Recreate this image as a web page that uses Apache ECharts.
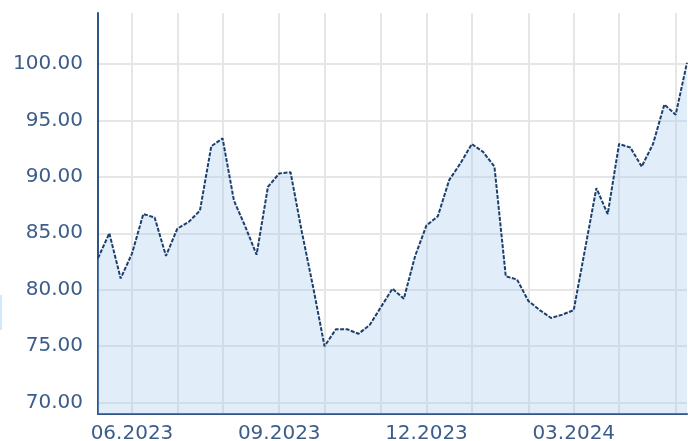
<!DOCTYPE html>
<html>
<head>
<meta charset="utf-8">
<script src="https://cdn.jsdelivr.net/npm/echarts@6/dist/echarts.min.js"></script>
<style>
html,body{margin:0;padding:0;background:#fff;}
#c{width:688px;height:441px;}
</style>
</head>
<body>
<div id="c"></div>
<script>
const dates = [
 '2023-05-16','2023-05-23','2023-05-30',
 '2023-06-06','2023-06-13','2023-06-20','2023-06-27',
 '2023-07-04','2023-07-11','2023-07-18','2023-07-25',
 '2023-08-01','2023-08-08','2023-08-15','2023-08-22','2023-08-29',
 '2023-09-05','2023-09-12','2023-09-19','2023-09-26',
 '2023-10-03','2023-10-10','2023-10-17','2023-10-24','2023-10-31',
 '2023-11-07','2023-11-14','2023-11-21','2023-11-28',
 '2023-12-05','2023-12-12','2023-12-19','2023-12-26',
 '2024-01-02','2024-01-09','2024-01-16','2024-01-23','2024-01-30',
 '2024-02-06','2024-02-13','2024-02-20','2024-02-27',
 '2024-03-05','2024-03-12','2024-03-19','2024-03-26',
 '2024-04-02','2024-04-09','2024-04-16','2024-04-23','2024-04-30',
 '2024-05-07','2024-05-14'
];
const values = [
 82.8, 85.0, 81.0,
 83.2, 86.7, 86.4, 83.0,
 85.4, 86.0, 87.0, 92.7,
 93.4, 87.9, 85.6, 83.1, 89.1,
 90.3, 90.4, 85.1, 80.2,
 75.0, 76.5, 76.5, 76.1, 76.9,
 78.5, 80.1, 79.2, 83.0,
 85.7, 86.5, 89.7, 91.2,
 92.9, 92.2, 90.9, 81.2, 80.9,
 79.0, 78.2, 77.5, 77.8,
 78.2, 83.6, 89.0, 86.7,
 92.9, 92.6, 90.9, 92.9, 96.4,
 95.5, 100.1
];
const xTickLabels = ['06.2023','09.2023','12.2023','03.2024'];
const yTickValues = [70, 75, 80, 85, 90, 95, 100];

function monthLabel(d){ return d.slice(5,7) + '.' + d.slice(0,4); }
function isFirstOfMonth(d){ return parseInt(d.slice(8,10),10) <= 7; }

const chart = echarts.init(document.getElementById('c'), null, {renderer:'canvas'});
chart.setOption({
  animation:false,
  backgroundColor:'#ffffff',
  grid:{left:98, right:1, top:13, bottom:27, containLabel:false, outerBoundsMode:'none'},
  xAxis:{
    type:'category',
    data:dates,
    boundaryGap:false,
    axisLine:{show:true, lineStyle:{color:'#2f5586', width:2}},
    axisTick:{show:false},
    axisLabel:{
      color:'#3c5d8a', fontFamily:'DejaVu Sans', fontSize:20, margin:10,
      interval:function(i, v){ return isFirstOfMonth(v) && xTickLabels.indexOf(monthLabel(v)) >= 0; },
      formatter:function(v){ return monthLabel(v); }
    },
    splitLine:{
      show:true,
      interval:function(i, v){ return i > 0 && isFirstOfMonth(v); },
      lineStyle:{color:'#e6e6e6', width:2}
    }
  },
  yAxis:{
    type:'value',
    min:69, max:104.5,
    splitNumber:7,
    axisLine:{show:true, lineStyle:{color:'#2f5586', width:2}},
    axisTick:{show:false},
    axisLabel:{
      color:'#3c5d8a', fontFamily:'DejaVu Sans', fontSize:20, margin:15,
      formatter:function(v){ return yTickValues.indexOf(Math.round(v*100)/100) >= 0 ? v.toFixed(2) : ''; }
    },
    splitLine:{show:true, showMinLine:false, showMaxLine:false, lineStyle:{color:'#e6e6e6', width:2}}
  },
  graphic:[{type:'rect', shape:{x:0, y:295, width:2, height:35}, style:{fill:'#d3e8f8'}}],
  series:[{
    type:'line',
    data:values,
    symbol:'none',
    smooth:false,
    lineStyle:{color:'#1d3f6e', width:2, type:[4,1.5]},
    areaStyle:{color:'rgba(160,200,240,0.45)', origin:'start'}
  }]
});
</script>
</body>
</html>
